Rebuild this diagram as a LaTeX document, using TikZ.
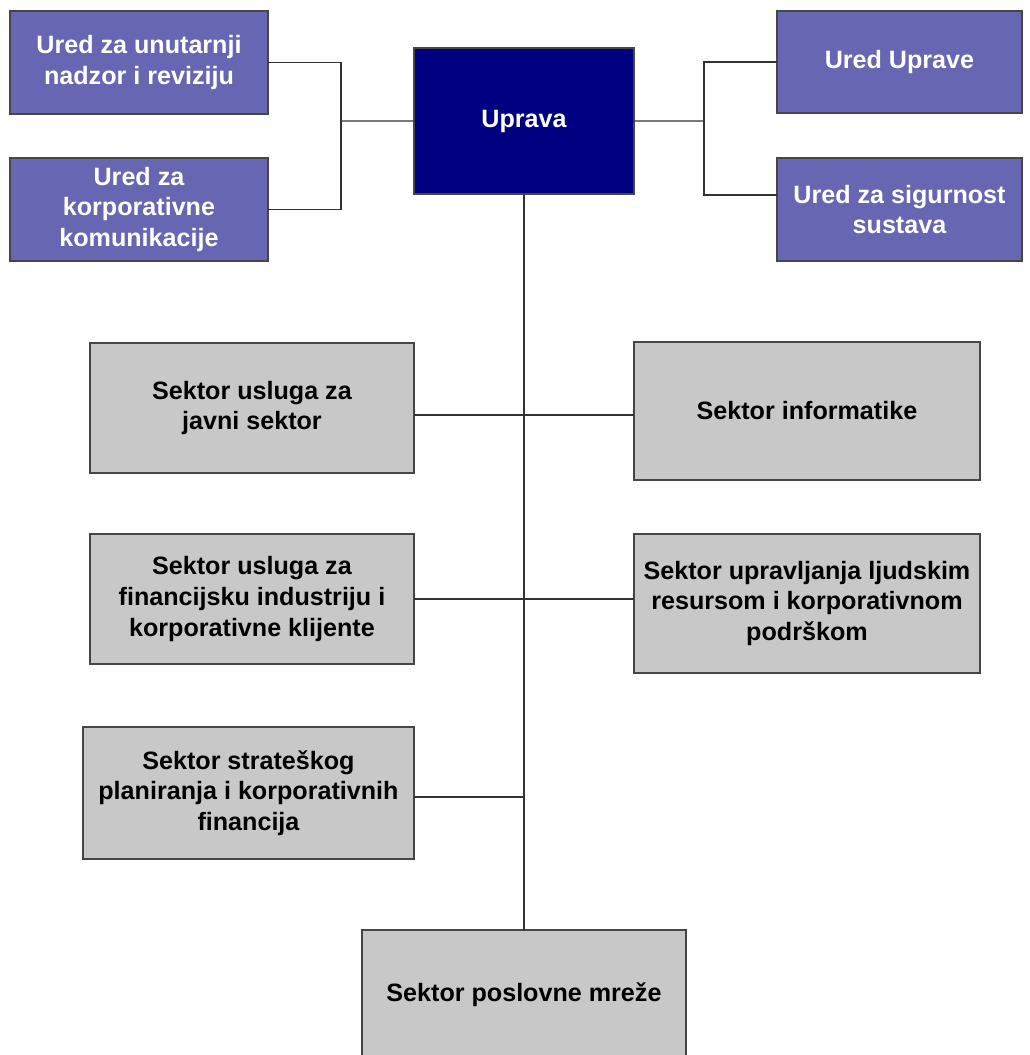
\documentclass[tikz,border=0pt]{standalone}
\usepackage{fontspec}
\setmainfont{Liberation Sans}
\definecolor{officefill}{RGB}{102,102,178}
\definecolor{boardfill}{RGB}{0,0,128}
\definecolor{sectorfill}{RGB}{200,200,200}
\definecolor{boxline}{RGB}{70,70,70}
\definecolor{linkline}{RGB}{50,50,50}

\begin{document}
\begin{tikzpicture}[x=0.02cm,y=-0.02cm]
\tikzstyle{every node}=[font=\fontsize{14.3}{17.5}\selectfont\bfseries, align=center, inner sep=2pt, outer sep=0pt]
\tikzstyle{unit}=[draw=boxline, line width=0.8pt, anchor=north west]
\tikzstyle{office}=[unit, fill=officefill, text=white]
\tikzstyle{board}=[unit, fill=boardfill, text=white]
\tikzstyle{sector}=[unit, fill=sectorfill, text=black]
\tikzstyle{link}=[draw=linkline, line width=0.8pt]

\useasboundingbox (0,0) rectangle (1030,1055);
\clip (0,0) rectangle (1030,1055);

% top level
\node[board, minimum width=4.4cm, minimum height=2.92cm] (uprava) at (414,48) {Uprava};

\node[office, minimum width=5.16cm, minimum height=2.06cm] (nadzor) at (10,11) {Ured za unutarnji\\nadzor i reviziju};
\node[office, minimum width=5.16cm, minimum height=2.06cm] (komunik) at (10,158) {Ured za\\korporativne\\komunikacije};
\node[office, minimum width=4.9cm, minimum height=2.04cm] (uredupr) at (777,11) {Ured Uprave};
\node[office, minimum width=4.9cm, minimum height=2.06cm] (sigurnost) at (777,158) {Ured za sigurnost\\sustava};

% sectors
\node[sector, minimum width=6.48cm, minimum height=2.6cm] (javni) at (90,343) {Sektor usluga za\\javni sektor};
\node[sector, minimum width=6.92cm, minimum height=2.76cm] (inform) at (634,342) {Sektor informatike};
\node[sector, minimum width=6.48cm, minimum height=2.6cm] (financ) at (90,534) {Sektor usluga za\\financijsku industriju i\\korporativne klijente};
\node[sector, minimum width=6.92cm, minimum height=2.78cm] (ljudski) at (634,534) {Sektor upravljanja ljudskim\\resursom i korporativnom\\podrškom};
\node[sector, minimum width=6.62cm, minimum height=2.64cm] (strat) at (83,727) {Sektor strateškog\\planiranja i korporativnih\\financija};
\node[sector, minimum width=6.48cm, minimum height=2.6cm] (mreza) at (362,930) {Sektor poslovne mreže};

% junctions
\coordinate (jleft) at (341,121);
\coordinate (jright) at (704,121);
\coordinate (row1) at (524,415);
\coordinate (row2) at (524,599);
\coordinate (row3) at (524,797);

% connectors
\draw[link] (nadzor.east) -| (jleft) |- (komunik.east);
\draw[link] (jleft) -- (uprava.west);
\draw[link] (uprava.east) -- (jright);
\draw[link] (uredupr.west) -| (jright) |- ([yshift=0.29cm]sigurnost.west);
\draw[link] (uprava.south) -- (uprava.south |- mreza.north);
\draw[link] (row1 -| javni.east) -- (row1 -| inform.west);
\draw[link] (row2 -| financ.east) -- (row2 -| ljudski.west);
\draw[link] (row3 -| strat.east) -- (row3);
\end{tikzpicture}
\end{document}
